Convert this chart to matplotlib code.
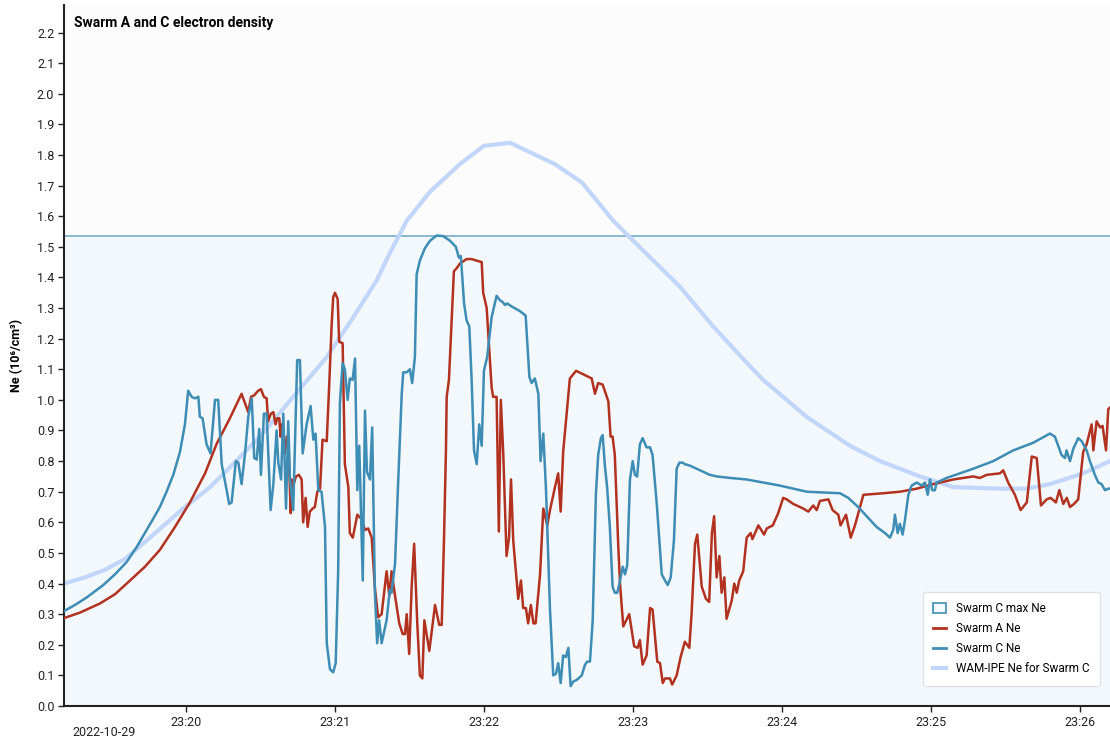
import datetime as dt
import matplotlib.pyplot as plt
import matplotlib.dates as mdates
from matplotlib.lines import Line2D
from matplotlib.patches import Patch

plt.rcParams['font.family'] = ['Roboto', 'DejaVu Sans']

# seconds after 2022-10-29 23:19:00, electron density in 10^6/cm^3
c_t = [10.7, 15.1, 19.9, 26.5, 31.2, 35.9, 40.0, 44.0, 46.5, 49.3, 52.0, 54.7, 57.4, 59.4, 60.7, 62.1,
       63.4, 64.8, 65.4, 66.5,
       68.1, 69.7, 71.5, 72.8, 74.2, 76.2, 77.2, 78.2, 79.9, 80.9, 82.2, 83.6, 84.9, 86.3, 87.3,
       88.3, 89.3, 90.0, 91.2, 92.3, 93.9, 95.0, 96.3, 97.0, 98.1, 99.0, 100.1, 101.0, 101.7,
       103.0, 104.6, 105.7, 106.8, 108.4, 110.0, 111.1, 112.0, 113.1, 114.4, 115.8, 116.5, 117.8,
       119.1, 120.1, 121.1, 121.8, 122.9, 123.8, 124.9, 125.8, 126.9, 127.9, 128.8, 129.6, 131.0,
       131.9, 132.7, 133.9, 134.8, 135.9, 136.8, 137.6, 138.6, 140.6, 141.9, 142.6, 144.0, 145.3,
       146.7, 147.3, 148.7, 150.0, 150.9, 152.0, 152.7, 154.0, 156.0, 158.1, 160.8, 163.4, 166.1,
       168.5, 169.7, 170.5, 171.8, 172.8, 173.9, 174.8, 175.8, 176.9, 177.9, 178.9, 179.8, 181.1,
       182.9, 184.9, 186.3, 187.3, 188.3, 189.2, 191.0, 194.3, 196.6, 198.1, 199.0, 200.3, 201.7,
       202.6, 203.7, 204.8, 206.4, 207.7, 208.8, 209.7, 210.7, 211.7, 212.8, 213.8, 214.7, 215.8,
       217.1, 219.2, 220.5, 221.4, 222.5, 223.6, 224.9, 225.8, 226.9, 227.6, 228.5, 229.4, 230.5,
       231.6, 232.5, 233.5, 234.6, 235.7, 236.6, 237.5, 238.6, 239.7, 240.6, 241.5, 242.6, 243.7,
       245.3, 246.7, 247.7, 249.4, 251.4, 252.7, 253.8, 255.0, 256.3, 257.4, 258.5, 259.8, 260.7,
       262.8, 266.8, 270.8, 273.5, 278.9, 285.6, 292.3, 299.0, 309.8, 323.2, 326.5, 330.5, 333.9,
       337.9, 341.3, 343.3, 344.6, 345.3, 346.4, 347.3, 348.4, 349.3, 350.7, 352.0, 354.1, 356.1,
       357.4, 358.5, 359.4, 360.3, 361.4, 362.1, 366.1, 371.5, 376.8, 384.9, 392.9, 401.0, 407.7,
       409.7, 412.4, 413.8, 414.4, 415.8, 417.1, 419.1, 420.5, 422.5, 423.8, 425.8, 427.2, 428.5,
       429.9, 431.2, 432.7]
c_ne = [0.31, 0.33, 0.355, 0.395, 0.43, 0.47, 0.52, 0.575, 0.61, 0.65, 0.70, 0.755, 0.83, 0.92, 1.03, 1.01,
        1.005, 1.01, 0.945, 0.94,
        0.855, 0.825, 1.00, 1.00, 0.79, 0.705, 0.66, 0.665, 0.80, 0.795, 0.725, 0.825, 0.945, 1.005, 0.81,
        0.805, 0.905, 0.755, 0.955, 0.955, 0.64, 0.725, 0.90, 0.795, 0.74, 0.955, 0.645, 0.93, 0.74,
        0.64, 1.13, 1.13, 0.825, 0.92, 0.98, 0.87, 0.89, 0.705, 0.70, 0.585, 0.205, 0.12,
        0.11, 0.14, 0.44, 0.99, 1.12, 1.10, 1.0, 1.07, 1.065, 1.135, 0.705, 0.85, 0.41,
        0.965, 0.765, 0.74, 0.91, 0.37, 0.205, 0.28, 0.205, 0.28, 0.38, 0.37, 0.465, 0.74,
        1.02, 1.09, 1.09, 1.10, 1.055, 1.14, 1.41, 1.455, 1.495, 1.52, 1.537, 1.535, 1.52,
        1.50, 1.465, 1.47, 1.315, 1.26, 1.24, 1.075, 0.835, 0.79, 0.92, 0.85, 1.095, 1.14,
        1.27, 1.34, 1.325, 1.32, 1.31, 1.315, 1.305, 1.29, 1.275, 1.075, 1.055, 1.07, 1.02,
        0.80, 0.89, 0.705, 0.315, 0.10, 0.105, 0.14, 0.075, 0.165, 0.16, 0.19, 0.065, 0.08,
        0.085, 0.10, 0.135, 0.145, 0.145, 0.28, 0.695, 0.82, 0.875, 0.885, 0.785, 0.715, 0.585,
        0.39, 0.37, 0.37, 0.41, 0.455, 0.43, 0.46, 0.74, 0.80, 0.755, 0.75, 0.855, 0.875,
        0.845, 0.845, 0.82, 0.66, 0.43, 0.41, 0.395, 0.42, 0.54, 0.775, 0.795, 0.795, 0.79,
        0.785, 0.77, 0.755, 0.75, 0.745, 0.74, 0.73, 0.72, 0.70, 0.695, 0.68, 0.65, 0.62,
        0.585, 0.565, 0.55, 0.575, 0.625, 0.565, 0.595, 0.56, 0.605, 0.69, 0.72, 0.73, 0.72,
        0.73, 0.69, 0.74, 0.705, 0.705, 0.73, 0.745, 0.76, 0.775, 0.80, 0.835, 0.86, 0.89,
        0.88, 0.82, 0.81, 0.835, 0.80, 0.84, 0.875, 0.865, 0.835, 0.80, 0.755, 0.73, 0.725,
        0.705, 0.71, 0.71]

a_t = [10.7, 17.1, 25.2, 31.2, 37.3, 43.3, 49.3, 55.4, 61.4, 67.5, 72.2, 77.5, 82.2, 84.9, 86.0,
       87.3, 88.9, 90.0,
       91.2, 92.3, 92.9, 94.0, 95.0, 95.9, 96.6, 97.4, 97.9, 98.3, 99.7, 100.4, 101.0, 102.0, 102.4,
       103.0, 104.1, 105.3, 106.4, 107.0, 108.0, 108.8, 109.7, 110.8, 111.7, 112.7, 113.8, 114.8,
       116.5, 117.5, 118.5, 119.1, 119.8, 120.9, 121.5, 122.9, 123.8, 125.2, 125.8, 127.0, 128.8,
       130.6, 131.9, 133.2, 134.6, 135.9, 137.2, 138.6, 140.6, 141.7, 142.6, 144.0, 145.7, 147.1,
       148.0, 148.7, 149.7, 150.7, 151.7, 152.9, 154.0, 155.0, 155.8, 157.8, 160.1, 161.8, 162.8,
       163.7, 164.5, 164.8, 165.7, 167.7, 168.8, 170.1, 172.8, 174.8, 178.9, 179.5, 180.9, 182.9,
       183.5, 184.9, 185.8, 186.6, 187.6, 188.9, 189.9, 190.7, 191.6, 193.6, 194.7, 195.6, 196.7,
       197.6, 198.7, 199.7, 200.6, 202.4, 203.7, 205.3, 206.4, 208.4, 209.7, 210.7, 211.7, 214.4,
       216.9, 223.2, 224.5, 225.8, 227.6, 229.9, 230.8, 231.6, 232.5, 233.9, 234.6, 235.9, 238.3,
       240.3, 241.7, 242.6, 243.7, 245.3, 246.7, 247.7, 249.6, 250.7, 251.8, 252.7, 254.7, 255.6,
       257.4, 259.0, 260.7, 262.5, 263.4, 264.8, 265.7, 267.5, 269.2, 270.5, 271.6, 272.5, 273.5,
       274.6, 275.5, 276.6, 277.5, 279.6, 280.6, 281.6, 282.6, 284.2, 285.6, 287.2, 287.9, 290.3,
       292.6, 293.7, 296.1, 298.3, 300.3, 301.7, 304.4, 308.4, 310.4, 312.4, 313.8, 315.1, 318.5,
       320.2, 322.5, 323.4, 325.6, 327.5, 329.2, 332.6, 340.6, 347.3, 354.1, 360.8, 368.8, 376.8,
       379.5, 382.2, 387.6, 388.9, 390.9, 393.6, 395.9, 398.4, 400.4, 402.4, 404.1, 406.4, 408.0,
       410.1, 411.5, 413.1, 414.5, 415.8, 417.4, 419.1, 421.1, 422.5, 424.5, 425.2, 426.5, 427.9,
       428.9, 430.3, 431.2, 432.7]
a_ne = [0.287, 0.305, 0.335, 0.365, 0.41, 0.455, 0.51, 0.585, 0.665, 0.76, 0.857, 0.94, 1.02, 0.96, 1.01,
        1.015, 1.03, 1.035,
        1.01, 1.005, 0.93, 0.955, 0.96, 0.92, 0.94, 0.94, 0.88, 0.92, 0.825, 0.88, 0.87, 0.63, 0.74,
        0.72, 0.75, 0.755, 0.74, 0.60, 0.68, 0.585, 0.635, 0.645, 0.65, 0.70, 0.71, 0.87,
        0.865, 1.05, 1.25, 1.335, 1.35, 1.33, 1.19, 1.185, 0.79, 0.715, 0.565, 0.55, 0.625,
        0.61, 0.575, 0.58, 0.55, 0.385, 0.29, 0.30, 0.44, 0.36, 0.44, 0.36, 0.27, 0.235,
        0.235, 0.30, 0.17, 0.39, 0.53, 0.28, 0.10, 0.09, 0.28, 0.18, 0.33, 0.265, 0.265,
        0.54, 0.835, 1.01, 1.065, 1.42, 1.43, 1.445, 1.46, 1.46, 1.45, 1.35, 1.30, 1.04,
        1.01, 1.01, 0.57, 1.00, 0.82, 0.49, 0.55, 0.74, 0.54, 0.35, 0.41, 0.32, 0.32,
        0.27, 0.33, 0.27, 0.27, 0.43, 0.645, 0.59, 0.64, 0.715, 0.76, 0.635, 0.83, 1.07,
        1.095, 1.07, 1.02, 1.055, 1.05, 0.995, 0.88, 0.88, 0.82, 0.52, 0.40, 0.26, 0.30,
        0.195, 0.19, 0.215, 0.135, 0.165, 0.32, 0.315, 0.145, 0.14, 0.075, 0.09, 0.09, 0.07,
        0.10, 0.16, 0.21, 0.19, 0.30, 0.53, 0.56, 0.39, 0.35, 0.34, 0.565, 0.62, 0.42,
        0.49, 0.37, 0.42, 0.285, 0.345, 0.40, 0.37, 0.41, 0.44, 0.55, 0.565, 0.545, 0.59,
        0.56, 0.58, 0.59, 0.63, 0.68, 0.675, 0.66, 0.645, 0.635, 0.655, 0.64, 0.67, 0.675,
        0.64, 0.625, 0.59, 0.625, 0.55, 0.59, 0.69, 0.695, 0.70, 0.71, 0.725, 0.74, 0.75,
        0.745, 0.755, 0.76, 0.77, 0.73, 0.69, 0.64, 0.665, 0.815, 0.81, 0.655, 0.675, 0.68,
        0.665, 0.705, 0.66, 0.68, 0.65, 0.66, 0.675, 0.83, 0.855, 0.92, 0.835, 0.93, 0.91,
        0.915, 0.835, 0.97, 0.98]

wam_t = [10.7, 19.1, 27.2, 35.2, 45.3, 58.7, 69.5, 78.8, 89.6, 103.0, 116.5, 127.2, 136.6, 141.3,
         148.7, 158.1, 170.1, 179.8, 190.3, 208.4, 219.3, 231.9, 239.9, 258.7, 272.1, 286.9, 292.3,
         309.7, 327.2, 339.3, 355.4, 368.8, 387.6, 398.3, 407.7, 421.1, 431.9]
wam_ne = [0.40, 0.42, 0.445, 0.48, 0.55, 0.645, 0.715, 0.79, 0.88, 1.01, 1.14, 1.27, 1.39, 1.47,
          1.585, 1.68, 1.77, 1.83, 1.84, 1.77, 1.71, 1.585, 1.52, 1.37, 1.24, 1.11, 1.065,
          0.945, 0.85, 0.80, 0.75, 0.715, 0.71, 0.71, 0.725, 0.76, 0.80]

c_max = max(c_ne)

base = dt.datetime(2022, 10, 29, 23, 19, 0)
def to_time(secs):
    return [base + dt.timedelta(seconds=s) for s in secs]

red = '#b3321f'
blue = '#3d8db4'
wam_col = '#c2d6fb'

fig = plt.figure(figsize=(11.1, 7.4), dpi=100)
ax = fig.add_axes([64 / 1110, 34 / 740, 1 - 64 / 1110, 701 / 740])
ax.set_facecolor('#fcfcfd')

ax.axhspan(0, c_max, facecolor='#f3f8fd', edgecolor='none', zorder=0)
ax.axhline(c_max, color='#7fb3cb', lw=1.3, zorder=1)

ax.plot(to_time(wam_t), wam_ne, color=wam_col, lw=3, solid_capstyle='round', zorder=2)
ax.plot(to_time(a_t), a_ne, color=red, lw=1.8, zorder=3)
ax.plot(to_time(c_t), c_ne, color=blue, lw=1.8, zorder=4)

ax.set_xlim(base + dt.timedelta(seconds=10.7), base + dt.timedelta(seconds=431.9))
ax.set_ylim(0, 2.29)
ax.set_yticks([i / 10 for i in range(23)])
ax.set_yticklabels(['%.1f' % (i / 10) for i in range(23)])
ax.xaxis.set_major_locator(mdates.MinuteLocator())
ax.xaxis.set_major_formatter(mdates.DateFormatter('%H:%M'))

for s in ['top', 'right']:
    ax.spines[s].set_visible(False)
for s in ['left', 'bottom']:
    ax.spines[s].set_linewidth(1.5)
    ax.spines[s].set_color('#222222')
ax.tick_params(labelsize=9, length=4, width=1, colors='#222222', pad=3)

ax.set_ylabel('Ne (10⁶/cm³)', fontsize=9, fontweight='bold', labelpad=10)
ax.text(0.0095, 0.985, 'Swarm A and C electron density', transform=ax.transAxes,
        fontsize=10, fontweight='bold', va='top', ha='left')
fig.text(72 / 1110, 1 - 732 / 740, '2022-10-29', fontsize=9, va='center', ha='left', color='#222222')

handles = [Patch(facecolor='#f4f9fd', edgecolor=blue, lw=1.2, label='Swarm C max Ne'),
           Line2D([], [], color=red, lw=2, label='Swarm A Ne'),
           Line2D([], [], color=blue, lw=2, label='Swarm C Ne'),
           Line2D([], [], color=wam_col, lw=3, label='WAM-IPE Ne for Swarm C')]
leg = ax.legend(handles=handles, loc='lower right', bbox_to_anchor=(0.996, 0.02),
                fontsize=8.5, frameon=True, fancybox=True, framealpha=1,
                edgecolor='#e2e2e2', handlelength=1.1, handleheight=1.0, handletextpad=0.8,
                borderpad=0.9, labelspacing=0.6)
leg.get_frame().set_linewidth(1)

plt.savefig('out.png', dpi=100)
